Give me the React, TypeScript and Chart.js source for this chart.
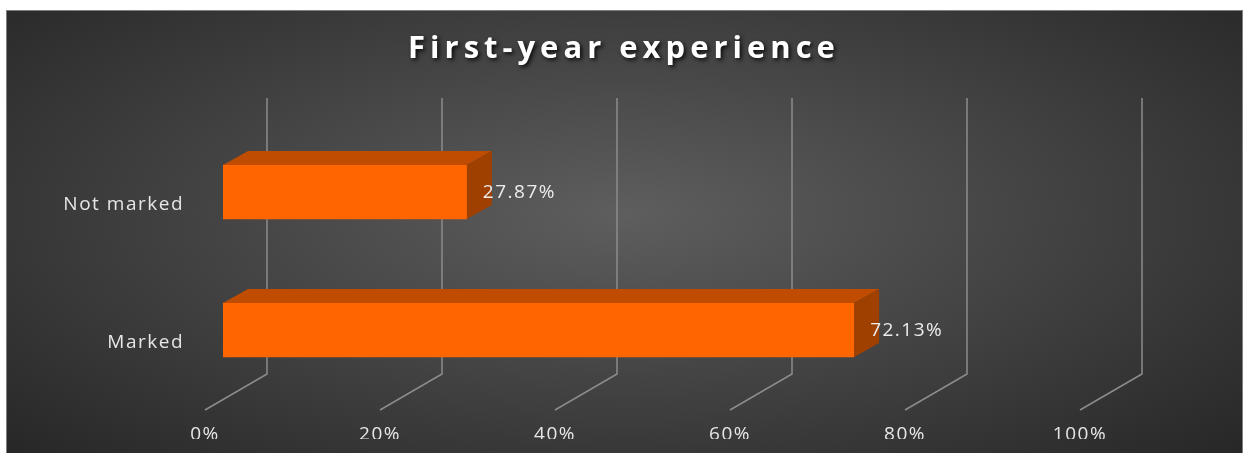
import React, { useEffect, useRef } from "react";
import { Chart, registerables } from "chart.js";
Chart.register(...registerables);

const categories = ["Not marked", "Marked"];
const values = [27.87, 72.13];
const valueLabels = ["27.87%", "72.13%"];
const tickStep = 20;
const titleText = "First-year experience";

const FONT = '"Open Sans", "Noto Sans", sans-serif';
const DX = 25;
const DY = 14;
const GRID_BACK = 44;
const GRID_FRONT = -18;
const GRID_TOP = 87;
const GRID_CORNER = 363;
const GRID_BOTTOM = 399;

const threeD = {
  id: "threeD",
  beforeDraw(chart: any) {
    chart.ctx.letterSpacing = "1.5px";
  },
  beforeDatasetsDraw(chart: any) {
    const ctx = chart.ctx;
    const xs = chart.scales.x;
    ctx.save();
    ctx.strokeStyle = "#8c8c8c";
    ctx.lineWidth = 1.5;
    for (let v = xs.min; v <= xs.max + 1e-9; v += tickStep) {
      const p = xs.getPixelForValue(v);
      ctx.beginPath();
      ctx.moveTo(p + GRID_BACK, GRID_TOP);
      ctx.lineTo(p + GRID_BACK, GRID_CORNER);
      ctx.lineTo(p + GRID_FRONT, GRID_BOTTOM);
      ctx.stroke();
    }
    ctx.restore();
  },
  afterDatasetsDraw(chart: any) {
    const ctx = chart.ctx;
    const meta = chart.getDatasetMeta(0);
    ctx.save();
    meta.data.forEach((bar: any, i: number) => {
      const { x, y, base, height } = bar.getProps(["x", "y", "base", "height"], true);
      const top = y - height / 2;
      const bottom = y + height / 2;
      ctx.fillStyle = "#BF4C00";
      ctx.beginPath();
      ctx.moveTo(base, top);
      ctx.lineTo(base + DX, top - DY);
      ctx.lineTo(x + DX, top - DY);
      ctx.lineTo(x, top);
      ctx.closePath();
      ctx.fill();
      ctx.fillStyle = "#A04000";
      ctx.beginPath();
      ctx.moveTo(x, top);
      ctx.lineTo(x + DX, top - DY);
      ctx.lineTo(x + DX, bottom - DY);
      ctx.lineTo(x, bottom);
      ctx.closePath();
      ctx.fill();
      ctx.font = `500 19px ${FONT}`;
      ctx.letterSpacing = "1.5px";
      ctx.fillStyle = "#ececec";
      ctx.textAlign = "left";
      ctx.textBaseline = "middle";
      ctx.fillText(valueLabels[i], x + 16, y + 1);
    });
    ctx.restore();
  },
  afterDraw(chart: any) {
    const ctx = chart.ctx;
    ctx.save();
    ctx.font = `bold 31px ${FONT}`;
    ctx.letterSpacing = "5px";
    ctx.textAlign = "center";
    ctx.textBaseline = "alphabetic";
    ctx.shadowColor = "rgba(0,0,0,0.85)";
    ctx.shadowBlur = 4;
    ctx.shadowOffsetX = 2;
    ctx.shadowOffsetY = 2;
    ctx.fillStyle = "#ffffff";
    ctx.fillText(titleText, 617, 47);
    ctx.restore();
  },
};

export default function App() {
  const ref = useRef<HTMLCanvasElement>(null);
  useEffect(() => {
    if (!ref.current) return;
    const chart = new Chart(ref.current, {
      type: "bar",
      data: {
        labels: categories,
        datasets: [
          {
            data: values,
            backgroundColor: "#FF6600",
            borderWidth: 0,
            barThickness: 54,
          },
        ],
      },
      plugins: [threeD],
      options: {
        indexAxis: "y",
        responsive: false,
        animation: false,
        layout: { padding: { left: 16, right: 144, top: 112, bottom: 14 } },
        plugins: {
          legend: { display: false },
          tooltip: { enabled: false },
          title: { display: false },
        },
        scales: {
          x: {
            min: 0,
            max: 100,
            border: { display: false },
            grid: { display: false, drawTicks: false },
            ticks: {
              stepSize: tickStep,
              callback: (v: any) => `${v}%`,
              color: "#e6e6e6",
              font: { family: FONT, size: 19, weight: "500" },
              labelOffset: -18,
              padding: 24,
              maxRotation: 0,
            },
            afterFit: (s: any) => {
              s.height = 40;
            },
          },
          y: {
            border: { display: false },
            grid: { display: false, drawTicks: false },
            ticks: {
              color: "#e6e6e6",
              font: { family: FONT, size: 19, weight: "500" },
              labelOffset: 13,
              padding: 39,
            },
            afterFit: (s: any) => {
              s.width = 200;
            },
          },
        },
      },
    } as any);
    return () => chart.destroy();
  }, []);
  return (
    <div
      style={{
        position: "absolute",
        left: 6,
        top: 10,
        width: 1235,
        height: 450,
        border: "1px solid #7f7f7f",
        background:
          "radial-gradient(ellipse farthest-corner at 50% 45%, #5e5e5e 0%, #262626 100%)",
        overflow: "hidden",
      }}
    >
      <canvas
        ref={ref}
        width={1235}
        height={442}
        style={{ position: "absolute", left: 0, top: 0 }}
      />
    </div>
  );
}
